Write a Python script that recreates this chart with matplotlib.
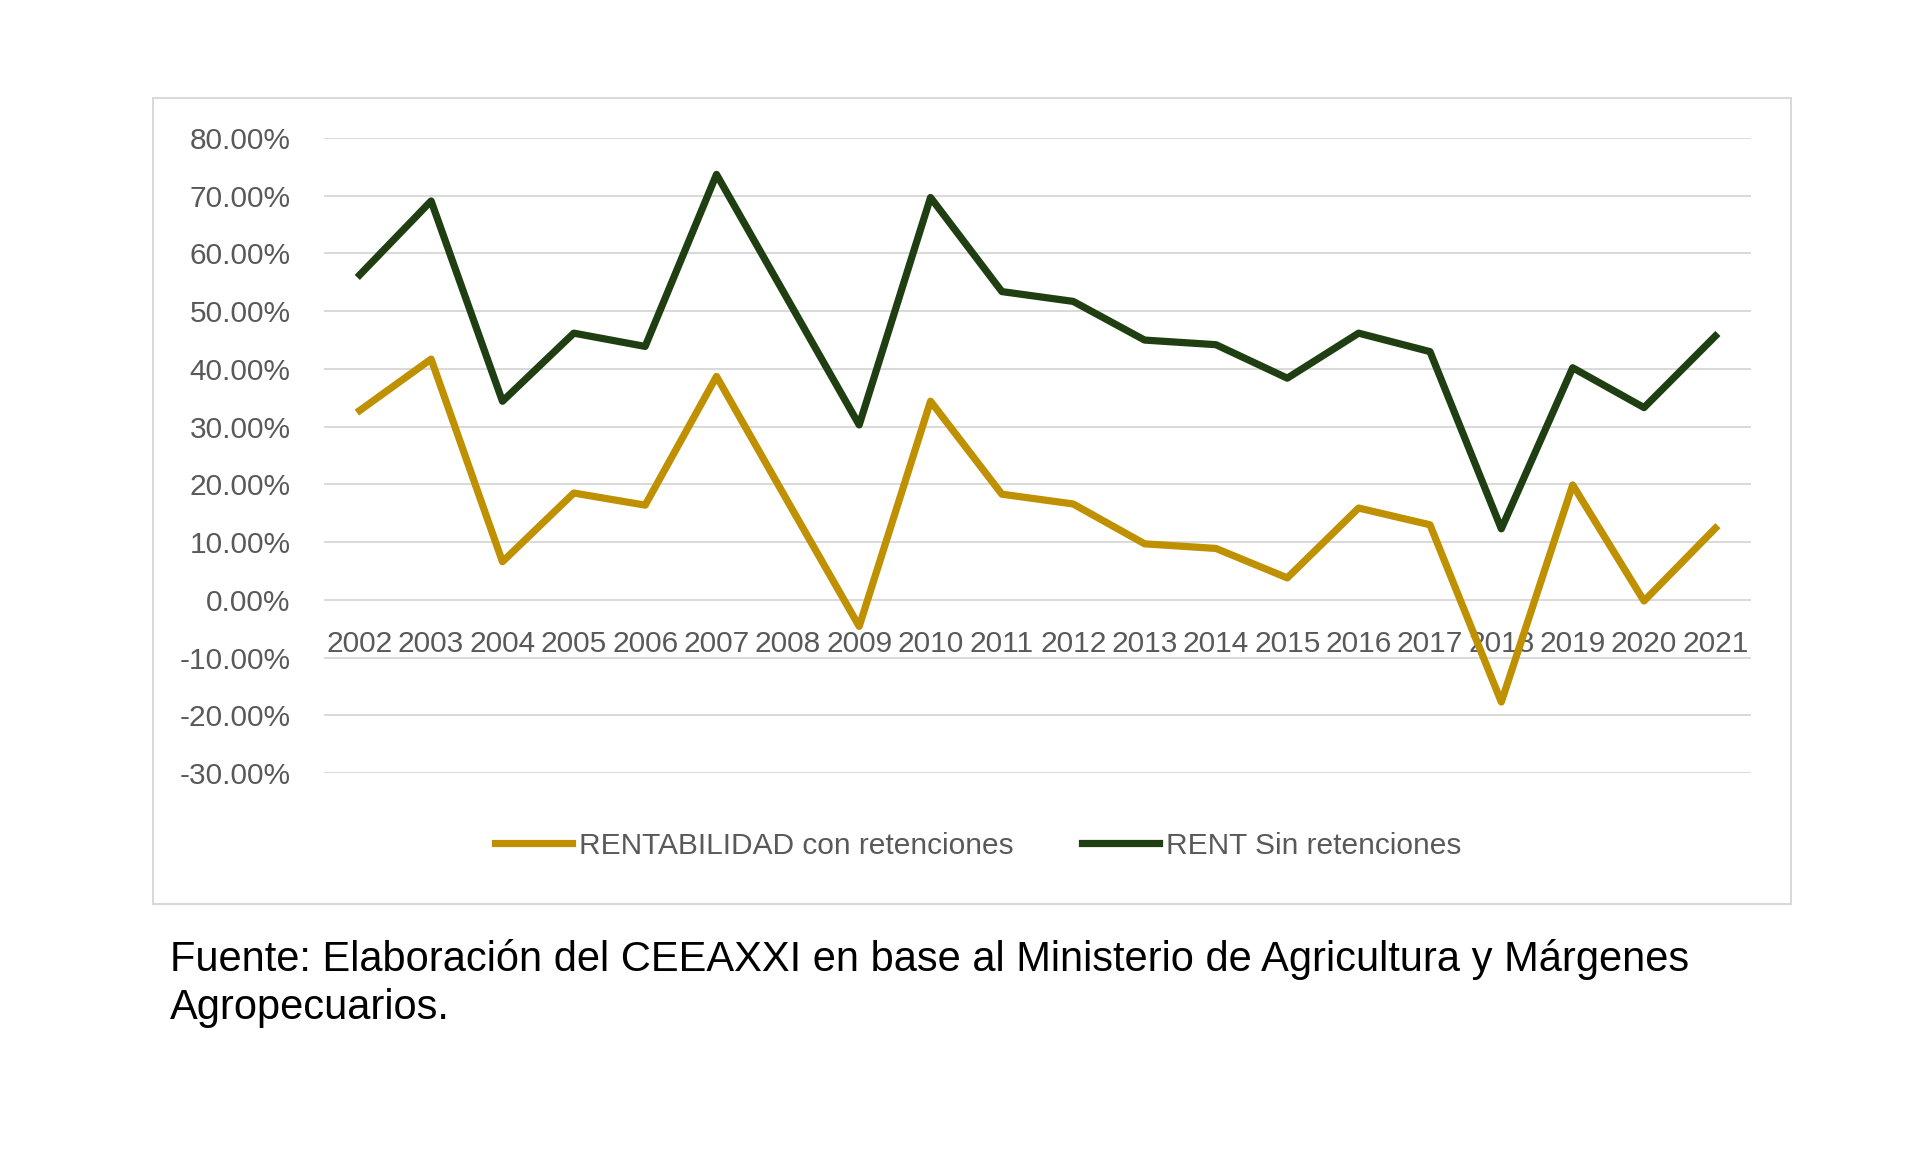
import numpy as np
import matplotlib
matplotlib.use("Agg")
import matplotlib.pyplot as plt
from matplotlib.patches import Rectangle
from matplotlib.ticker import FuncFormatter

# =====================================================
# DATA
# =====================================================

years = [str(y) for y in range(2002, 2022)]

rent_con = [32.8, 41.7, 6.6, 18.5, 16.4, 38.7, 17.0, -4.6, 34.4, 18.3,
            16.6, 9.7, 8.9, 3.8, 15.9, 13.0, -17.7, 19.9, -0.2, 12.4]

rent_sin = [56.3, 69.1, 34.4, 46.2, 43.9, 73.7, 52.0, 30.3, 69.7, 53.4,
            51.7, 45.0, 44.2, 38.4, 46.2, 43.0, 12.3, 40.2, 33.3, 45.7]

y_ticks = [-30, -20, -10, 0, 10, 20, 30, 40, 50, 60, 70, 80]

label_con = "RENTABILIDAD con retenciones"
label_sin = "RENT Sin retenciones"
source = ["Fuente: Elaboración del CEEAXXI en base al Ministerio de Agricultura y Márgenes",
          "Agropecuarios."]

# =====================================================
# STYLE
# =====================================================

plt.rcParams['font.family'] = ['Liberation Sans', 'DejaVu Sans']

GOLD = "#BF9000"
GREEN = "#1F3F12"
GRID = "#D9D9D9"
TXT = "#595959"

fig = plt.figure(figsize=(19.2, 11.65), dpi=100)
fig.patch.set_facecolor("white")

# chart frame
fig.patches.append(Rectangle((0.0797, 0.224), 0.853, 0.6918, transform=fig.transFigure,
                             fill=False, edgecolor=GRID, linewidth=1.5))

ax = fig.add_axes([0.1688, 0.3365, 0.7432, 0.545])

x = np.arange(len(years))
ax.plot(x, rent_con, color=GOLD, lw=5.2, label=label_con)
ax.plot(x, rent_sin, color=GREEN, lw=5.2, label=label_sin)

ax.set_xlim(-0.5, len(years) - 0.5)
ax.set_ylim(-30, 80)
ax.set_yticks(y_ticks)
ax.yaxis.set_major_formatter(FuncFormatter(lambda v, p: f"{v:.2f}%"))
ax.grid(axis="y", color=GRID, lw=1.4)
ax.set_axisbelow(True)

for s in ["top", "right", "left"]:
    ax.spines[s].set_visible(False)
ax.spines["bottom"].set_position(("data", 0))
ax.spines["bottom"].set_visible(False)

ax.set_xticks(x)
ax.set_xticklabels(years)
ax.tick_params(axis="x", length=0, pad=21.5, labelsize=21.5, labelcolor=TXT)
ax.tick_params(axis="y", length=0, pad=24, labelsize=21.5, labelcolor=TXT)

fig.legend(loc="center", bbox_to_anchor=(0.5096, 0.274), ncol=2, frameon=False,
           fontsize=21.5, handlelength=2.56, handletextpad=0.25, columnspacing=2.3,
           labelcolor=TXT)

fig.text(0.0885, 0.1768, source[0], fontsize=30, color="black", va="center", ha="left")
fig.text(0.0885, 0.1348, source[1], fontsize=30, color="black", va="center", ha="left")

fig.savefig("out.png", dpi=100)
